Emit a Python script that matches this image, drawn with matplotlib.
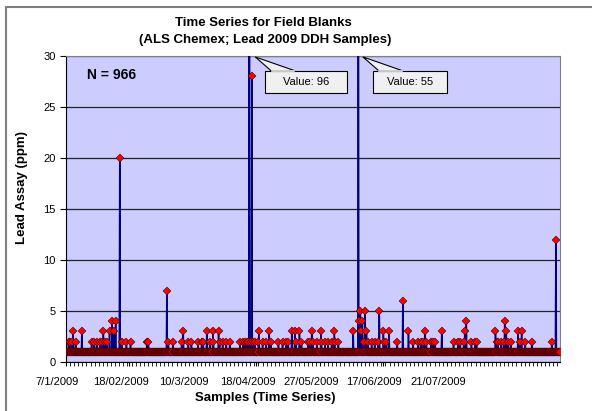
import numpy as np
import matplotlib.pyplot as plt
import matplotlib.transforms as mtransforms
from matplotlib.patches import Rectangle, Polygon

plt.rcParams['font.family'] = ['Liberation Sans', 'DejaVu Sans']

# donnees (indice d'echantillon -> teneur en ppm)
n_samples = 966
base_value = 1
at_2 = [5, 8, 11, 19, 50, 55, 60, 66, 70, 76, 80, 109, 118, 126, 158, 161, 200, 209,
        226, 239, 245, 258, 265, 268, 281, 288, 300, 306, 313, 320, 340, 346, 350, 353,
        356, 361, 366, 369, 376, 384, 391, 400, 415, 423, 430, 434, 449, 460, 473, 477,
        482, 490, 499, 506, 512, 519, 525, 532, 582, 590, 597, 603, 610, 622, 626, 647,
        678, 688, 693, 698, 704, 713, 717, 721, 757, 766, 770, 777, 792, 799, 802, 841,
        844, 850, 855, 864, 869, 887, 897, 910, 949]
at_3 = [14, 31, 73, 85, 94, 229, 275, 287, 298, 377, 397, 441, 447, 456, 480, 498, 524,
        561, 577, 587, 620, 631, 669, 701, 734, 779, 839, 860, 883, 890]
at_4 = [90, 97, 573, 579, 782, 857]
at_5 = [575, 584, 612]
spike_idx = [105, 197, 358, 363, 571, 658, 957]
spike_val = [20, 7, 96, 28, 55, 6, 12]

date_labels = ['7/1/2009', '18/02/2009', '10/3/2009', '18/04/2009',
               '27/05/2009', '17/06/2009', '21/07/2009']
date_pos = [0, 124, 248, 372, 496, 620, 744]

lead = np.full(n_samples, base_value, dtype=float)
lead[at_2] = 2
lead[at_3] = 3
lead[at_4] = 4
lead[at_5] = 5
lead[spike_idx] = spike_val
x = np.arange(n_samples)

fig = plt.figure(figsize=(5.92, 4.11), dpi=100)
ax = fig.add_axes([66/592, 1-362/411, 494/592, 306/411])
ax.set_facecolor('#CCCCFF')

ax.plot(x, lead, color='#000080', lw=1.1, marker='D', ms=3.7,
        mfc='red', mec='#2a0000', mew=0.35, zorder=3)

ax.set_xlim(0, n_samples - 1)
ax.set_ylim(0, 30)
ax.set_yticks(range(0, 31, 5))
ax.yaxis.grid(True, color='#222222', lw=0.9)
ax.set_axisbelow(True)
ax.tick_params(axis='y', labelsize=8, length=4, direction='out')

ax.set_xticks(date_pos)
ax.set_xticklabels(date_labels, fontsize=8)
ax.set_xticks(np.arange(0, n_samples, 8), minor=True)
ax.tick_params(axis='x', which='both', length=3, direction='out', pad=8)
offset = mtransforms.ScaledTranslation(-0.09, 0, fig.dpi_scale_trans)
for lab in ax.get_xticklabels():
    lab.set_transform(lab.get_transform() + offset)

for s in ['left', 'bottom']:
    ax.spines[s].set_color('black')
for s in ['top', 'right']:
    ax.spines[s].set_color('#808080')

ax.text(21/494, 0.938, 'N = 966', transform=ax.transAxes,
        fontsize=10, fontweight='bold', va='center')

# bulles "Value"
callouts = [(0.383, 0.403, 0.569, 'Value: 96'), (0.601, 0.621, 0.771, 'Value: 55')]
for tip, x0, x1, txt in callouts:
    y0, y1 = 0.878, 0.952
    ax.add_patch(Polygon([(tip, 0.997), (x0 + 0.012, y1), (x0 + 0.06, y1)],
                         closed=True, transform=ax.transAxes, fc='#F0F0F0',
                         ec='black', lw=0.8, zorder=5, clip_on=False))
    ax.add_patch(Rectangle((x0, y0), x1 - x0, y1 - y0, transform=ax.transAxes,
                           fc='#F0F0F0', ec='black', lw=0.8, zorder=6))
    ax.plot([x0 + 0.013, x0 + 0.059], [y1, y1], color='#F0F0F0', lw=1.2,
            transform=ax.transAxes, zorder=7)
    ax.text((x0 + x1) / 2, (y0 + y1) / 2, txt, transform=ax.transAxes,
            fontsize=8, ha='center', va='center', zorder=8)

fig.text(263/592, 1-23/411, 'Time Series for Field Blanks', fontsize=9.5,
         fontweight='bold', ha='center', va='center')
fig.text(265/592, 1-40/411, '(ALS Chemex; Lead 2009 DDH Samples)', fontsize=9.5,
         fontweight='bold', ha='center', va='center')
fig.text(265/592, 1-398/411, 'Samples (Time Series)', fontsize=9.5,
         fontweight='bold', ha='center', va='center')
fig.text(22/592, 1-187/411, 'Lead Assay (ppm)', fontsize=9.5, fontweight='bold',
         rotation=90, ha='center', va='center')

# cadre du graphique (coupe a droite et en bas)
fig.patches.append(Rectangle((6/592, -0.1), 1.2, 1 - 7/411 + 0.1,
                             transform=fig.transFigure, fill=False,
                             ec='#808080', lw=1.5))

fig.savefig('out.png', dpi=100)
